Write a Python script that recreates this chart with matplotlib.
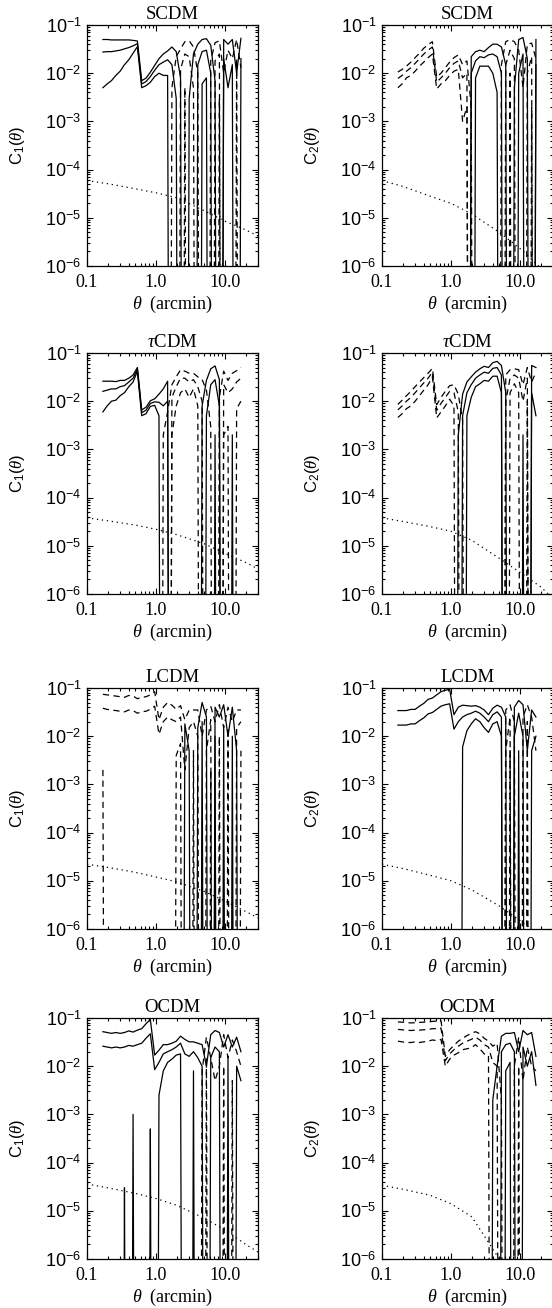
import numpy as np
import matplotlib
matplotlib.use("Agg")
import matplotlib.pyplot as plt
from matplotlib.ticker import FixedLocator, LogLocator, NullFormatter, FixedFormatter

plt.rcParams['font.family'] = 'Liberation Sans'
plt.rcParams['mathtext.fontset'] = 'custom'
plt.rcParams['mathtext.rm'] = 'Liberation Sans'
plt.rcParams['mathtext.it'] = 'Liberation Serif:italic'
plt.rcParams['mathtext.bf'] = 'Liberation Sans:bold'

# angular bins (arcmin)
theta = [0.170, 0.196, 0.226, 0.262, 0.302, 0.349, 0.403, 0.465, 0.537, 0.620,
         0.716, 0.827, 0.955, 1.103, 1.274, 1.471, 1.698, 1.961, 2.265, 2.615,
         3.020, 3.487, 4.027, 4.650, 5.370, 6.202, 7.161, 8.270, 9.550, 11.03,
         12.74, 14.71, 16.98]

# measured mean and 1-sigma, per model and component
scdm_c1_mean = [0.0275, 0.028, 0.028, 0.029, 0.030, 0.032, 0.034, 0.037, 0.041, 0.006,
                0.0067, 0.0085, 0.0115, 0.015, 0.017, 0.019, 0.015, 0.003, -0.012, -0.025,
                -0.022, -0.005, 0.015, 0.028, 0.030, 0.010, -0.018, -0.025, 0.020, 0.005,
                0.015, -0.020, 0.020]
scdm_c1_sig = [0.0225, 0.022, 0.021, 0.020, 0.019, 0.017, 0.015, 0.011, 0.0055, 0.001,
               0.0012, 0.002, 0.003, 0.005, 0.008, 0.010, 0.020, 0.025, 0.020, 0.020,
               0.025, 0.030, 0.025, 0.022, 0.022, 0.028, 0.025, 0.022, 0.030, 0.035,
               0.035, 0.030, 0.033]
scdm_c2_mean = [-0.0078, -0.009, -0.011, -0.013, -0.016, -0.020, -0.025, -0.030, -0.035, -0.0065,
                -0.008, -0.010, -0.013, -0.016, -0.018, -0.008, -0.010, 0.010, 0.018, 0.022,
                0.021, 0.024, 0.025, 0.022, 0.010, -0.015, -0.030, -0.020, 0.010, 0.025,
                -0.010, -0.022, 0.015]
scdm_c2_sig = [0.0028, 0.003, 0.003, 0.004, 0.005, 0.006, 0.008, 0.009, 0.010, 0.0018,
               0.002, 0.003, 0.004, 0.005, 0.006, 0.007, 0.008, 0.012, 0.010, 0.008,
               0.007, 0.010, 0.015, 0.018, 0.025, 0.030, 0.020, 0.025, 0.040, 0.030,
               0.030, 0.020, 0.035]

tcdm_c1_mean = [0.016, 0.017, 0.018, 0.018, 0.020, 0.021, 0.025, 0.030, 0.046, 0.0058,
                0.0065, 0.009, 0.0097, 0.0095, 0.008, 0.010, -0.012, -0.020, -0.030, -0.030,
                -0.025, -0.028, -0.020, -0.010, 0.005, 0.022, 0.028, 0.008, -0.022, -0.015,
                -0.018, -0.025, -0.030]
tcdm_c1_sig = [0.010, 0.009, 0.008, 0.0075, 0.007, 0.006, 0.005, 0.005, 0.004, 0.0008,
               0.001, 0.0012, 0.0015, 0.0045, 0.010, 0.016, 0.010, 0.012, 0.015, 0.012,
               0.013, 0.010, 0.012, 0.018, 0.022, 0.025, 0.026, 0.020, 0.020, 0.012,
               0.020, 0.018, 0.020]
tcdm_c2_mean = [-0.0066, -0.008, -0.010, -0.012, -0.015, -0.019, -0.024, -0.030, -0.040, -0.0065,
                -0.009, -0.012, -0.016, -0.015, -0.006, 0.005, 0.015, 0.022, 0.030, 0.035,
                0.040, 0.038, 0.048, 0.050, 0.035, -0.010, -0.030, -0.035, -0.030, -0.010,
                -0.030, 0.015, 0.005]
tcdm_c2_sig = [0.002, 0.0025, 0.003, 0.004, 0.005, 0.006, 0.007, 0.008, 0.008, 0.002,
               0.003, 0.004, 0.005, 0.007, 0.008, 0.009, 0.010, 0.010, 0.010, 0.012,
               0.013, 0.012, 0.015, 0.017, 0.020, 0.025, 0.015, 0.012, 0.015, 0.012,
               0.020, 0.040, 0.045]

lcdm_c1_mean = [-0.038, -0.036, -0.035, -0.034, -0.033, -0.032, -0.035, -0.034, -0.030, -0.032,
                -0.033, -0.036, -0.042, -0.011, -0.020, -0.025, -0.022, -0.020, -0.025, -0.002,
                -0.015, -0.020, -0.010, 0.020, -0.005, -0.022, 0.010, -0.010, 0.015, -0.015,
                0.010, -0.015, -0.020]
lcdm_c1_sig = [0.036, 0.036, 0.035, 0.034, 0.033, 0.032, 0.035, 0.034, 0.030, 0.032,
               0.033, 0.036, 0.042, 0.011, 0.020, 0.025, 0.022, 0.016, 0.018, 0.020,
               0.020, 0.015, 0.025, 0.030, 0.030, 0.020, 0.030, 0.035, 0.030, 0.025,
               0.030, 0.020, 0.015]
lcdm_c2_mean = [0.017, 0.017, 0.017, 0.018, 0.018, 0.021, 0.024, 0.029, 0.031, 0.036,
                0.042, 0.045, 0.047, 0.014, 0.020, 0.025, 0.028, 0.030, 0.033, 0.030,
                0.025, 0.020, 0.028, 0.032, 0.025, -0.005, -0.025, 0.010, 0.030, 0.010,
                -0.020, 0.005, 0.010]
lcdm_c2_sig = [0.017, 0.017, 0.017, 0.018, 0.018, 0.021, 0.024, 0.029, 0.031, 0.036,
               0.042, 0.045, 0.047, 0.014, 0.020, 0.019, 0.015, 0.012, 0.010, 0.010,
               0.010, 0.008, 0.010, 0.012, 0.015, 0.030, 0.020, 0.030, 0.025, 0.035,
               0.025, 0.030, 0.015]

ocdm_c1_mean = [0.026, 0.025, 0.024, 0.025, 0.024, 0.025, 0.027, 0.026, 0.028, 0.030,
                0.038, 0.047, 0.0085, 0.012, 0.018, 0.020, 0.022, 0.025, 0.030, 0.018,
                0.016, 0.020, 0.015, 0.010, -0.015, 0.015, 0.025, 0.020, -0.010, 0.015,
                -0.005, 0.010, 0.005]
ocdm_c1_sig = [0.026, 0.025, 0.024, 0.025, 0.024, 0.02497, 0.027, 0.025, 0.028, 0.030,
               0.038, 0.0465, 0.0085, 0.0095, 0.010, 0.008, 0.008, 0.008, 0.012, 0.018,
               0.016, 0.012, 0.015, 0.018, 0.025, 0.030, 0.030, 0.030, 0.035, 0.030,
               0.030, 0.030, 0.015]
ocdm_c2_mean = [-0.058, -0.057, -0.056, -0.055, -0.056, -0.056, -0.057, -0.058, -0.060, -0.060,
                -0.062, -0.013, -0.018, -0.022, -0.026, -0.030, -0.033, -0.036, -0.040, -0.035,
                -0.028, -0.025, -0.012, -0.010, 0.020, 0.028, 0.030, 0.020, -0.010, 0.025,
                0.010, 0.020, 0.004]
ocdm_c2_sig = [0.025, 0.025, 0.025, 0.024, 0.024, 0.025, 0.025, 0.025, 0.025, 0.026,
               0.026, 0.003, 0.004, 0.005, 0.007, 0.008, 0.010, 0.012, 0.012, 0.012,
               0.010, 0.008, 0.014, 0.020, 0.022, 0.020, 0.018, 0.030, 0.030, 0.030,
               0.035, 0.030, 0.012]

# theoretical prediction (dotted)
theory_x = [0.1, 0.2, 0.5, 1.0, 2.0, 5.0, 10.0, 20.0, 30.0]
scdm_c1_th = [5.9e-5, 5.1e-5, 4.0e-5, 3.3e-5, 2.6e-5, 1.4e-5, 8.5e-6, 5.6e-6, 4.2e-6]
scdm_c2_th = [5.9e-5, 4.5e-5, 2.8e-5, 2.0e-5, 1.2e-5, 5.0e-6, 2.3e-6, 9e-7, 5e-7]
tcdm_c1_th = [3.8e-5, 3.3e-5, 2.7e-5, 2.2e-5, 1.7e-5, 1.1e-5, 7e-6, 4.5e-6, 3.3e-6]
tcdm_c2_th = [3.8e-5, 3.2e-5, 2.5e-5, 2.0e-5, 1.3e-5, 5.5e-6, 2.8e-6, 1.4e-6, 8e-7]
lcdm_c1_th = [2.2e-5, 1.9e-5, 1.5e-5, 1.2e-5, 9.5e-6, 6e-6, 3.8e-6, 2.3e-6, 1.7e-6]
lcdm_c2_th = [2.2e-5, 1.8e-5, 1.3e-5, 1.0e-5, 6.5e-6, 3.0e-6, 1.5e-6, 7e-7, 4e-7]
ocdm_c1_th = [3.6e-5, 3.0e-5, 2.3e-5, 1.8e-5, 1.3e-5, 7e-6, 4e-6, 2e-6, 1.4e-6]
ocdm_c2_th = [3.4e-5, 2.8e-5, 2.1e-5, 1.4e-5, 7.5e-6, 1.0e-6, 3e-7, 1e-7, 5e-8]

models = ['SCDM', r'$\tau$CDM', 'LCDM', 'OCDM']
panels = [
    [(scdm_c1_mean, scdm_c1_sig, scdm_c1_th), (scdm_c2_mean, scdm_c2_sig, scdm_c2_th)],
    [(tcdm_c1_mean, tcdm_c1_sig, tcdm_c1_th), (tcdm_c2_mean, tcdm_c2_sig, tcdm_c2_th)],
    [(lcdm_c1_mean, lcdm_c1_sig, lcdm_c1_th), (lcdm_c2_mean, lcdm_c2_sig, lcdm_c2_th)],
    [(ocdm_c1_mean, ocdm_c1_sig, ocdm_c1_th), (ocdm_c2_mean, ocdm_c2_sig, ocdm_c2_th)],
]
ylabels = [r'C$_1$($\theta$)', r'C$_2$($\theta$)']

xticks = [0.1, 1.0, 10.0]
xticklabels = ['0.1', '1.0', '10.0']
yticks = [1e-6, 1e-5, 1e-4, 1e-3, 1e-2, 1e-1]
yticklabels = [r'$10^{-6}$', r'$10^{-5}$', r'$10^{-4}$', r'$10^{-3}$', r'$10^{-2}$', r'$10^{-1}$']

W, H = 552, 1308
col_left = [87, 382]
row_top = [25, 353, 688, 1018]
axw, axh = 171, 241

TINY = 1e-30
LW = 0.9


def draw_panel(ax, mean, sig, th, title, ylab):
    m = np.array(mean)
    s = np.array(sig)
    # mean and mean +/- sigma: solid where positive, dashed |value| where negative
    for y in (m + s, m, m - s):
        pos = np.where(y > 0, y, TINY)
        neg = np.where(y < 0, -y, TINY)
        ax.plot(theta, pos, color='k', lw=LW)
        ax.plot(theta, neg, color='k', lw=LW, ls=(0, (5, 3.5)))
    ax.plot(theory_x, th, color='k', lw=LW, ls=(0, (1, 3)))

    ax.set_xscale('log')
    ax.set_yscale('log')
    ax.set_xlim(0.1, 30)
    ax.set_ylim(1e-6, 1e-1)

    ax.xaxis.set_major_locator(FixedLocator(xticks))
    ax.xaxis.set_major_formatter(FixedFormatter(xticklabels))
    ax.xaxis.set_minor_locator(LogLocator(base=10, subs=range(2, 10), numticks=20))
    ax.xaxis.set_minor_formatter(NullFormatter())
    ax.yaxis.set_major_locator(FixedLocator(yticks))
    ax.yaxis.set_major_formatter(FixedFormatter(yticklabels))
    ax.yaxis.set_minor_locator(LogLocator(base=10, subs=range(2, 10), numticks=20))
    ax.yaxis.set_minor_formatter(NullFormatter())

    ax.tick_params(which='both', direction='in', top=True, right=True, width=0.8)
    ax.tick_params(which='major', length=4)
    ax.tick_params(which='minor', length=2)
    ax.tick_params(axis='x', pad=6)
    ax.tick_params(axis='y', pad=4, labelsize=13)
    for lab in ax.get_xticklabels():
        lab.set_fontfamily('Liberation Serif')
        lab.set_fontsize(13)
    for sp in ax.spines.values():
        sp.set_linewidth(0.9)

    ax.set_title(title, fontfamily='Liberation Serif', fontsize=13.5, pad=4)
    ax.set_xlabel(r'$\theta$  (arcmin)', fontfamily='Liberation Serif', fontsize=13)
    ax.xaxis.set_label_coords(0.5, -0.115)
    ax.set_ylabel(ylab, fontsize=12)
    ax.yaxis.set_label_coords(-0.35, 0.5)


fig = plt.figure(figsize=(W / 100, H / 100), dpi=100)
for r in range(4):
    for c in range(2):
        l = col_left[c]
        t = row_top[r]
        ax = fig.add_axes([l / W, 1 - (t + axh) / H, axw / W, axh / H])
        mean, sig, th = panels[r][c]
        draw_panel(ax, mean, sig, th, models[r], ylabels[c])

fig.savefig('out.png', dpi=100)
